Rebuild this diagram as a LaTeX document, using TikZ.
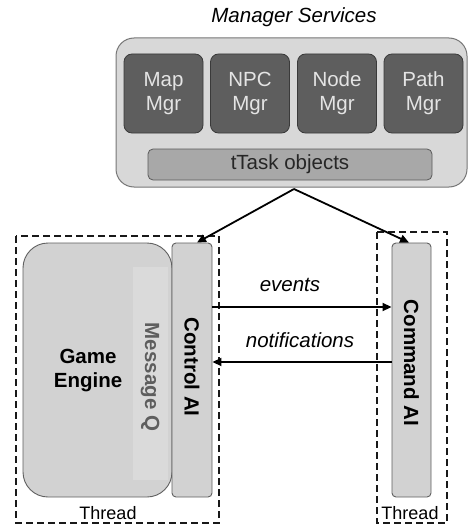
\documentclass[tikz,border=0pt]{standalone}
\usepackage{fontspec}
\setmainfont{Liberation Sans}
\usetikzlibrary{arrows.meta,calc}
\definecolor{outerfill}{HTML}{D8D8D8}
\definecolor{outerdraw}{HTML}{777777}
\definecolor{mgrfill}{HTML}{5E5E5E}
\definecolor{mgrdraw}{HTML}{3A3A3A}
\definecolor{mgrtext}{HTML}{E4E4E4}
\definecolor{taskfill}{HTML}{A8A8A8}
\definecolor{taskdraw}{HTML}{5A5A5A}
\definecolor{boxfill}{HTML}{D2D2D2}
\definecolor{boxdraw}{HTML}{606060}
\definecolor{msgfill}{HTML}{DADADA}
\definecolor{msgtext}{HTML}{5E5E5E}
\newcommand{\bigf}{\fontsize{20.5}{24}\selectfont}
\newcommand{\thrf}{\fontsize{18}{21}\selectfont}
\begin{document}
\begin{tikzpicture}[x=1pt,y=-1pt,
  outerbox/.style={draw=outerdraw,fill=outerfill,line width=1pt,rounded corners=18pt,minimum width=351pt,minimum height=149pt,inner sep=0pt},
  mgrbox/.style={draw=mgrdraw,fill=mgrfill,line width=0.8pt,rounded corners=8pt,minimum width=79pt,minimum height=79pt,inner sep=0pt,align=center,text=mgrtext,font=\bigf},
  taskbox/.style={draw=taskdraw,fill=taskfill,line width=0.8pt,rounded corners=5pt,minimum width=284pt,minimum height=31pt,inner sep=0pt,font=\bigf,text=black!85},
  enginebox/.style={draw=boxdraw,fill=boxfill,line width=0.9pt,rounded corners=25pt,minimum width=149pt,minimum height=254pt,inner sep=0pt},
  aibox/.style={draw=boxdraw,fill=boxfill,line width=0.9pt,rounded corners=4pt,minimum width=40pt,minimum height=254pt,inner sep=0pt},
  threadbox/.style={draw=black!90,dash pattern=on 7pt off 4pt,line width=1.1pt},
  lbl/.style={font=\bigf,inner sep=0pt},
  arr/.style={draw=black,line width=1.8pt,-{Triangle[length=9pt,width=8pt]}}]
\useasboundingbox[fill=white] (0,0) rectangle (468,527);

% thread boxes
\draw[threadbox] (16,236) rectangle (219,523);
\draw[threadbox] (377,232) rectangle (447,523);

% manager services
\node[lbl,font=\bigf\itshape] (mstitle) at (294,17) {Manager Services};
\node[outerbox] (outer) at (291.5,112.5) {};
\node[mgrbox] (map) at (163.5,93.5) {Map\\Mgr};
\node[mgrbox] (npc) at (250,93.5) {NPC\\Mgr};
\node[mgrbox] (nodemgr) at (337,93.5) {Node\\Mgr};
\node[mgrbox] (path) at (423.5,93.5) {Path\\Mgr};
\node[taskbox] (task) at (290,164.5) {tTask objects};

% game engine
\node[enginebox] (engine) at (97.5,370) {};
\fill[msgfill] (133,267) rectangle (168,480);
\node[lbl,font=\bigf\bfseries,text=msgtext,rotate=-90] (msgq) at (150,377) {Message Q};
\node[lbl,font=\bigf\bfseries,align=center] (enginelbl) at (88,371) {Game\\Engine};
\node[aibox] (ctrl) at (192,370) {};
\node[lbl,font=\bigf\bfseries,rotate=-90] (ctrllbl) at (192,367) {Control AI};
\node[aibox,minimum width=39pt] (cmd) at (411.5,370) {};
\node[lbl,font=\bigf\bfseries,rotate=-90] (cmdlbl) at (411.5,363) {Command AI};

% thread labels
\node[lbl,font=\thrf] (thr1) at (108,513) {Thread};
\node[lbl,font=\thrf] (thr2) at (410,513) {Thread};

% arrows from manager services
\coordinate (apex) at (294,189);
\draw[arr] (apex) -- ($(ctrl.north)+(5,0)$);
\draw[arr] (apex) -- ($(cmd.north)+(-2.5,0)$);

% events / notifications
\draw[arr] (ctrl.east |- 0,307) -- (cmd.west |- 0,307);
\draw[arr] (cmd.west |- 0,362) -- (ctrl.east |- 0,362);
\node[lbl,font=\bigf\itshape] (evlbl) at (290,285) {events};
\node[lbl,font=\bigf\itshape] (notlbl) at (300,340) {notifications};
\end{tikzpicture}
\end{document}
